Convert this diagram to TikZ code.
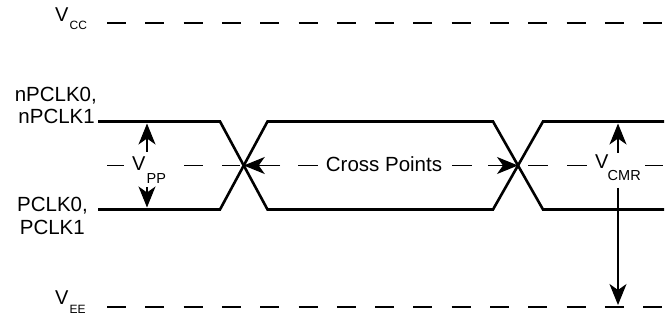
\documentclass[tikz,border=0pt]{standalone}
\usepackage{fontspec}
\setmainfont{Liberation Sans}
\usetikzlibrary{arrows.meta}
\begin{document}
\begin{tikzpicture}[x=1pt,y=-1pt,
  sig/.style={line width=2.6pt, line join=miter, color=black},
  refline/.style={line width=1.3pt, dash pattern=on 19pt off 19.3pt},
  midseg/.style={line width=1.3pt},
  arr/.style={line width=1.2pt, -{Stealth[length=21pt,width=17pt,inset=6pt]}},
  big/.style={font=\fontsize{20.5}{24}\selectfont, inner sep=0pt},
  vlbl/.style={font=\fontsize{20}{24}\selectfont, inner sep=0pt, anchor=base west},
  subL/.style={font=\fontsize{14.5}{17}\selectfont, inner sep=0pt, anchor=base west},
  subS/.style={font=\fontsize{12}{14}\selectfont, inner sep=0pt, anchor=base west}
]
\useasboundingbox (0,0) rectangle (672,320);

% reference levels
\coordinate (cc0) at (107,23);  \coordinate (cc1) at (663,23);
\coordinate (ee0) at (107,307); \coordinate (ee1) at (663,307);
\draw[refline] (cc0) -- (cc1);
\draw[refline] (ee0) -- (ee1);

% mid (crossing) level segments
\foreach \a/\b in {107/124, 184/203, 222/240, 298/318, 452/472, 528/548, 567/587, 645/663}
  \draw[midseg] (\a,165.5) -- (\b,165.5);

% waveform corners
\def\yt{121.5}\def\yb{209.5}
\coordinate (s0t) at (98,\yt);  \coordinate (s0b) at (98,\yb);
\coordinate (a1) at (220,\yt);  \coordinate (a2) at (267.5,\yb);
\coordinate (b1) at (220,\yb);  \coordinate (b2) at (267.5,\yt);
\coordinate (c1) at (493,\yt);  \coordinate (c2) at (543,\yb);
\coordinate (d1) at (493,\yb);  \coordinate (d2) at (543,\yt);
\coordinate (e1) at (664,\yt);  \coordinate (e2) at (664,\yb);
\coordinate (x1) at (243.75,165.5);
\coordinate (x2) at (518,165.5);

\draw[sig] (s0t) -- (a1) -- (a2) -- (d1) -- (d2) -- (e1);
\draw[sig] (s0b) -- (b1) -- (b2) -- (c1) -- (c2) -- (e2);

% labels
\node[vlbl] (vcc) at (55,22) {V};
\node[subS] (vccs) at (69.5,29.5) {CC};
\node[vlbl] (vee) at (55,305) {V};
\node[subS] (vees) at (69.5,314) {EE};

\node[big, anchor=base east] (n0) at (97,102) {nPCLK0,};
\node[big, anchor=base east] (n1) at (95,124) {nPCLK1};
\node[big, anchor=base east] (p0) at (88,212) {PCLK0,};
\node[big, anchor=base east] (p1) at (85,235) {PCLK1};

\node[vlbl] (vpp) at (132,170.5) {V};
\node[subL] (vpps) at (146.5,183.5) {PP};
\node[vlbl] (vcmr) at (595,168.5) {V};
\node[subL] (vcmrs) at (607.5,180.5) {CMR};

\node[big] (cp) at (384,164.5) {Cross Points};

% arrows
\coordinate (pp1) at (147,152);  \coordinate (pp1t) at (147,123.5);
\coordinate (pp2) at (147,187);  \coordinate (pp2t) at (147,207.5);
\draw[arr] (pp1) -- (pp1t);
\draw[arr] (pp2) -- (pp2t);

\coordinate (cmr1) at (618,153); \coordinate (cmr1t) at (618,123.5);
\coordinate (cmr2) at (618,188); \coordinate (cmr2t) at (618,305);
\draw[arr] (cmr1) -- (cmr1t);
\draw[arr] (cmr2) -- (cmr2t);

\coordinate (xa) at (280,165.5);
\coordinate (xb) at (488,165.5);
\draw[arr] (xa) -- (x1);
\draw[arr] (xb) -- (x2);
\end{tikzpicture}
\end{document}
